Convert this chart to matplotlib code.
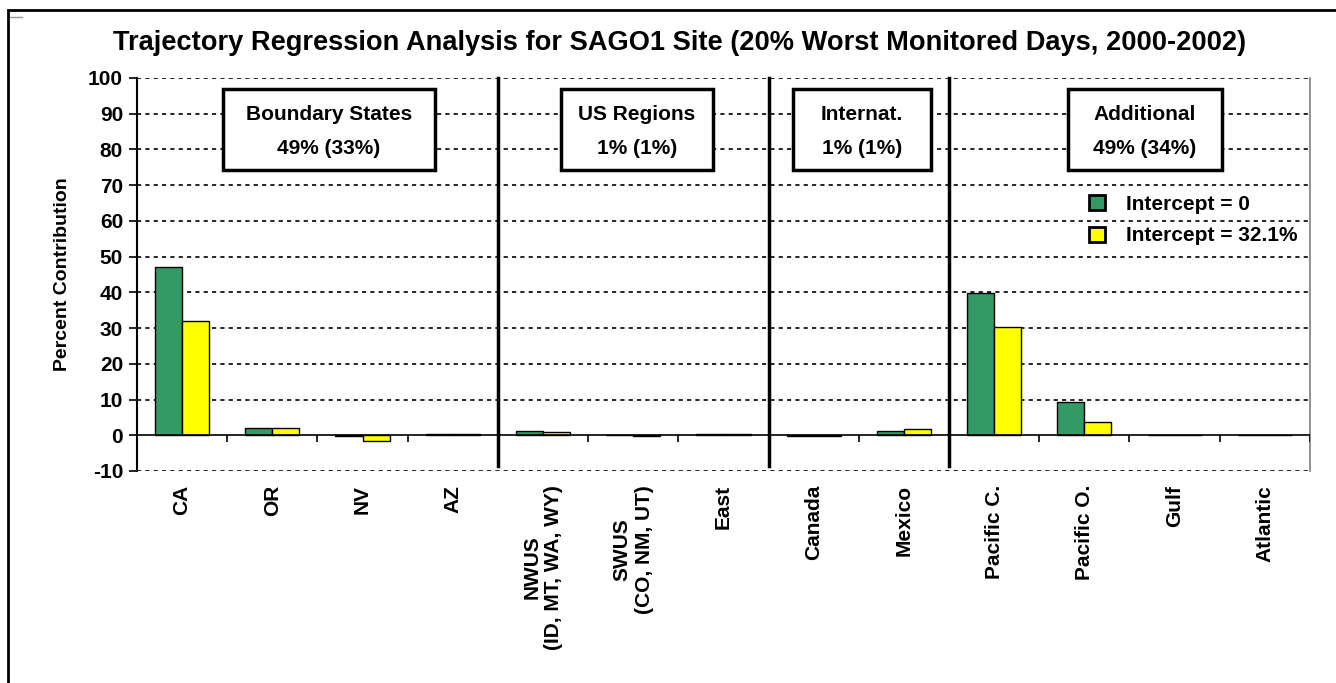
import numpy as np
import matplotlib.pyplot as plt
from matplotlib.patches import Rectangle, Patch
from matplotlib.lines import Line2D

plt.rcParams['font.family'] = ['Liberation Sans', 'DejaVu Sans']
plt.rcParams['font.weight'] = 'bold'
plt.rcParams['axes.unicode_minus'] = False

categories = ['CA', 'OR', 'NV', 'AZ', 'NWUS\n(ID, MT, WA, WY)', 'SWUS\n(CO, NM, UT)', 'East',
              'Canada', 'Mexico', 'Pacific C.', 'Pacific O.', 'Gulf', 'Atlantic']
intercept_zero = [47.1, 2.1, -0.3, 0.4, 1.3, 0.0, 0.3, -0.3, 1.3, 39.7, 9.3, 0.0, 0.0]
intercept_321 = [32.1, 2.1, -1.5, 0.4, 0.8, -0.3, 0.3, -0.2, 1.7, 30.4, 3.6, 0.0, 0.0]
group_titles = ['Boundary States', 'US Regions', 'Internat.', 'Additional']
group_shares = ['49% (33%)', '1% (1%)', '1% (1%)', '49% (34%)']
group_edges = [3.5, 6.5, 8.5]

green = '#339966'
yellow = '#FFFF00'
fs = 15

fig = plt.figure(figsize=(13.36, 6.83), dpi=100)
ax = fig.add_axes([0.1025, 0.3104, 0.8780, 0.5754])

x = np.arange(len(categories))
w = 0.3
ax.bar(x - w / 2, intercept_zero, w, color=green, edgecolor='black', linewidth=1, zorder=3)
ax.bar(x + w / 2, intercept_321, w, color=yellow, edgecolor='black', linewidth=1, zorder=3)

ax.set_xlim(-0.5, len(categories) - 0.5)
ax.set_ylim(-10, 100)
yt = np.arange(-10, 101, 10)
ax.set_yticks(yt)
ax.tick_params(axis='y', direction='out', length=6, width=1.2, labelsize=fs, pad=4)
for t in yt:
    if t != 0:
        ax.axhline(t, color='black', lw=1.2, ls=(0, (2.5, 2.5)), zorder=1)
ax.axhline(0, color='black', lw=1.2, zorder=4)
ax.vlines(np.arange(len(categories) + 1) - 0.5, -2, 0, color='black', lw=1.2, zorder=4)

ax.set_xticks(x)
ax.set_xticklabels(categories, rotation=90, fontsize=fs, fontweight='bold', va='top')
ax.tick_params(axis='x', length=0, pad=10)

for s in ['top', 'bottom']:
    ax.spines[s].set_visible(False)
ax.spines['left'].set_linewidth(1.5)
ax.spines['right'].set_color('#808080')
ax.spines['right'].set_linewidth(1.2)

for e in group_edges:
    ax.plot([e, e], [-8.7, 100], color='black', lw=2.5, zorder=5, clip_on=False)

box_x = [(0.45, 2.80), (4.20, 5.88), (6.77, 8.30), (9.82, 11.52)]
for (x0, x1), title, share in zip(box_x, group_titles, group_shares):
    ax.add_patch(Rectangle((x0, 74.2), x1 - x0, 22.6, facecolor='white', edgecolor='black',
                           lw=2.5, zorder=6))
    ax.text((x0 + x1) / 2, 85.0, title + '\n' + share, ha='center', va='center', fontsize=fs,
            fontweight='bold', linespacing=1.95, zorder=7)

handles = [Patch(facecolor=green, edgecolor='black', lw=2), Patch(facecolor=yellow, edgecolor='black', lw=2)]
ax.legend(handles, ['Intercept = 0', 'Intercept = 32.1%'], loc='upper left',
          bbox_to_anchor=(0.796, 0.75), frameon=False, handlelength=0.75,
          handleheight=0.75, handletextpad=1.0, labelspacing=0.6,
          prop={'weight': 'bold', 'size': fs})

ax.set_ylabel('Percent Contribution', fontsize=14, fontweight='bold', labelpad=12)
fig.text(0.509, 0.937, 'Trajectory Regression Analysis for SAGO1 Site (20% Worst Monitored Days, 2000-2002)',
         ha='center', va='center', fontsize=19.6, fontweight='bold')

fig.add_artist(Rectangle((8 / 1336, -0.1), 1.2, 1.1 - 10 / 683, transform=fig.transFigure,
                         fill=False, edgecolor='black', lw=2))
fig.add_artist(Line2D([10 / 1336, 22 / 1336], [1 - 17 / 683, 1 - 17 / 683], transform=fig.transFigure,
                      color='#999999', lw=1))

fig.savefig('out.png', dpi=100)
